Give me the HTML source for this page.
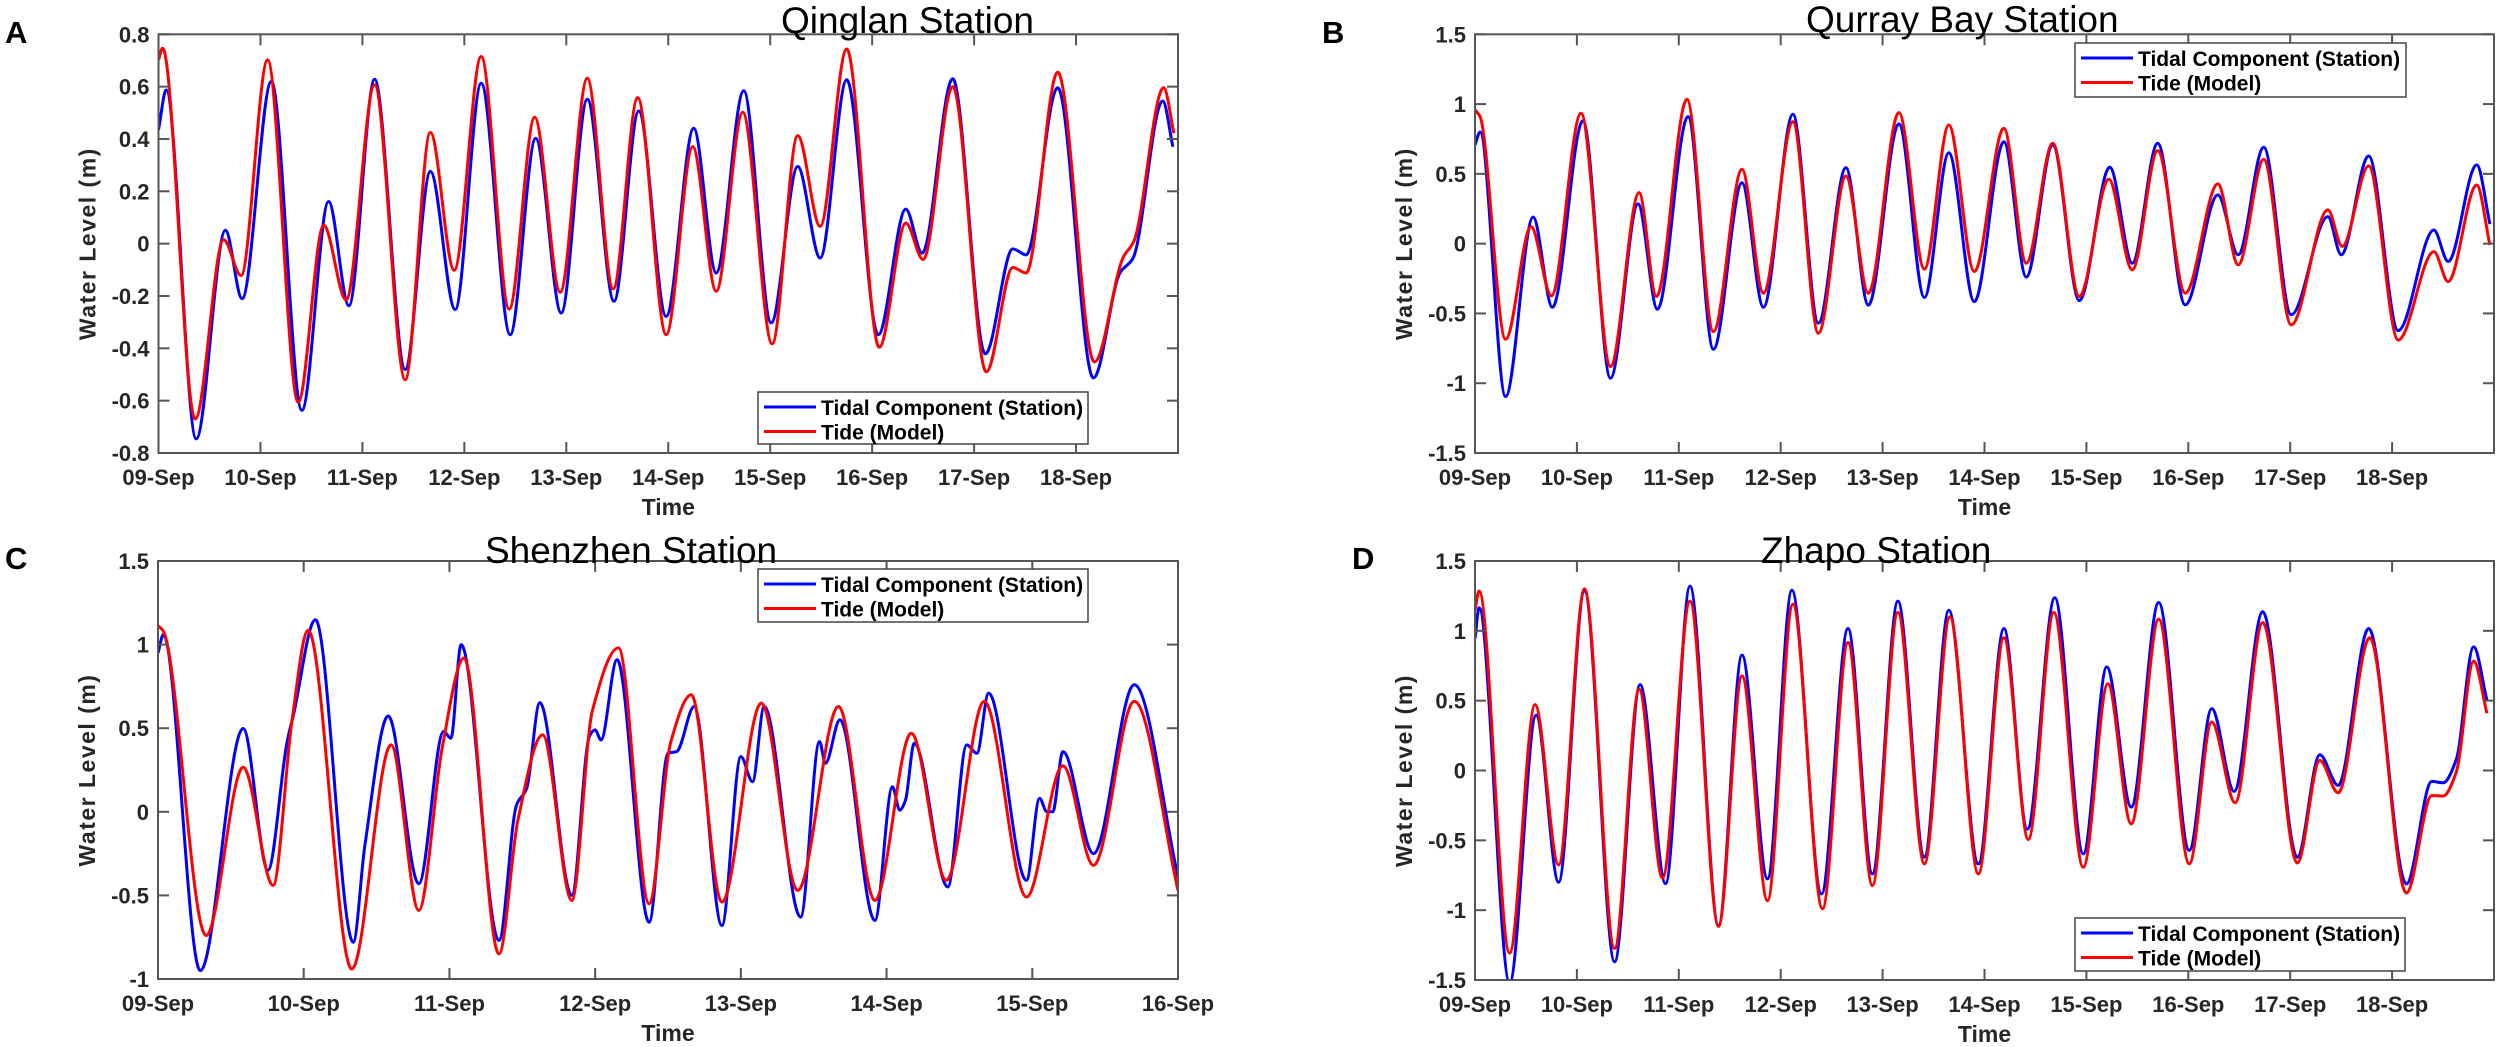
<!DOCTYPE html>
<html><head><meta charset="utf-8"><style>
html,body{margin:0;padding:0;background:#fff;}
svg{display:block;}
text{font-family:"Liberation Sans",Arial,sans-serif;}
.tick{font-size:22px;font-weight:bold;fill:#262626;}
.ttl{font-size:37px;fill:#000;}
.lab{font-size:23px;font-weight:bold;fill:#262626;}
.leg{font-size:21px;font-weight:bold;fill:#000;}
.let{font-size:31px;font-weight:bold;fill:#000;}
</style></head><body>
<svg id="fig" width="2500" height="1047" viewBox="0 0 2500 1047" xmlns="http://www.w3.org/2000/svg"></svg>
<script>
// ---- Panel A: Qinglan ----
const qinglanStationDays=[0,0.076,0.37,0.656,0.82,1.107,1.407,1.668,1.868,2.12,2.42,2.667,2.91,3.165,3.45,3.70,3.95,4.206,4.468,4.71,4.98,5.25,5.47,5.74,6.01,6.27,6.49,6.75,7.06,7.33,7.49,7.79,8.11,8.38,8.51,8.82,9.17,9.43,9.56,9.85,9.95];
const qinglanStationLevels=[0.435,0.587,-0.746,0.051,-0.21,0.62,-0.637,0.161,-0.237,0.628,-0.481,0.276,-0.252,0.613,-0.348,0.403,-0.265,0.552,-0.22,0.507,-0.278,0.441,-0.112,0.584,-0.303,0.295,-0.055,0.626,-0.348,0.132,-0.036,0.63,-0.421,-0.02,-0.043,0.596,-0.513,-0.112,-0.055,0.545,0.37];
const qinglanModelDays=[0,0.04,0.36,0.64,0.81,1.07,1.37,1.62,1.84,2.12,2.42,2.667,2.90,3.165,3.44,3.69,3.94,4.206,4.46,4.70,4.98,5.24,5.47,5.73,6.02,6.27,6.49,6.75,7.07,7.33,7.50,7.79,8.12,8.38,8.51,8.82,9.18,9.46,9.57,9.86,9.96];
const qinglanModelLevels=[0.702,0.747,-0.67,0.015,-0.122,0.702,-0.606,0.07,-0.214,0.607,-0.52,0.425,-0.102,0.715,-0.25,0.483,-0.186,0.632,-0.173,0.558,-0.348,0.371,-0.182,0.502,-0.383,0.413,0.066,0.744,-0.396,0.079,-0.061,0.6,-0.49,-0.091,-0.112,0.655,-0.452,-0.055,0.012,0.596,0.422];
// ---- Panel B: Qurray Bay ----
const qurrayStationDays=[0,0.05,0.30,0.57,0.76,1.06,1.33,1.60,1.79,2.09,2.34,2.62,2.83,3.12,3.37,3.64,3.86,4.16,4.41,4.65,4.90,5.19,5.41,5.67,5.93,6.23,6.45,6.70,6.97,7.29,7.49,7.74,8.01,8.37,8.50,8.77,9.06,9.41,9.55,9.83,9.96];
const qurrayStationLevels=[0.707,0.80,-1.096,0.19,-0.456,0.88,-0.964,0.285,-0.47,0.91,-0.757,0.437,-0.456,0.927,-0.57,0.545,-0.44,0.858,-0.386,0.652,-0.415,0.73,-0.24,0.707,-0.408,0.547,-0.14,0.72,-0.439,0.349,-0.08,0.69,-0.51,0.194,-0.08,0.628,-0.623,0.098,-0.128,0.564,0.141];
const qurrayModelDays=[0,0.05,0.30,0.55,0.75,1.04,1.33,1.61,1.78,2.08,2.34,2.62,2.83,3.12,3.37,3.64,3.86,4.16,4.41,4.65,4.90,5.19,5.41,5.67,5.93,6.22,6.45,6.70,6.97,7.29,7.49,7.74,8.01,8.37,8.51,8.77,9.06,9.41,9.55,9.83,9.96];
const qurrayModelLevels=[0.958,0.91,-0.685,0.122,-0.374,0.934,-0.88,0.366,-0.379,1.034,-0.63,0.533,-0.355,0.874,-0.642,0.485,-0.355,0.939,-0.183,0.85,-0.20,0.827,-0.14,0.72,-0.379,0.461,-0.188,0.667,-0.355,0.428,-0.152,0.605,-0.582,0.242,-0.02,0.557,-0.69,-0.057,-0.272,0.42,-0.01];
// ---- Panel C: Shenzhen ----
const shenzhenStationDays=[0,0.037,0.29,0.585,0.754,0.885,0.93,1.08,1.34,1.42,1.58,1.79,1.96,2.01,2.08,2.34,2.46,2.53,2.62,2.84,2.96,3.0,3.04,3.15,3.37,3.5,3.56,3.68,3.87,4.0,4.08,4.16,4.41,4.54,4.58,4.68,4.92,5.04,5.09,5.13,5.19,5.42,5.55,5.62,5.70,5.96,6.05,6.10,6.14,6.21,6.42,6.70,7.0];
const shenzhenStationLevels=[0.95,1.06,-0.95,0.498,-0.35,0.415,0.58,1.149,-0.78,-0.2,0.573,-0.43,0.48,0.44,1.0,-0.77,0.04,0.14,0.653,-0.5,0.45,0.49,0.43,0.91,-0.66,0.35,0.36,0.63,-0.68,0.33,0.18,0.63,-0.63,0.42,0.29,0.55,-0.65,0.15,0.01,0.07,0.41,-0.45,0.4,0.35,0.71,-0.41,0.08,0.0,0.0,0.36,-0.25,0.76,-0.39];
const shenzhenModelDays=[0,0.037,0.33,0.585,0.79,0.92,1.03,1.33,1.60,1.79,1.95,2.1,2.34,2.47,2.64,2.84,2.98,3.16,3.37,3.52,3.66,3.87,4.14,4.39,4.67,4.92,5.17,5.41,5.67,5.96,6.21,6.42,6.70,7.0];
const shenzhenModelLevels=[1.113,1.08,-0.74,0.266,-0.44,0.55,1.085,-0.94,0.40,-0.59,0.38,0.92,-0.85,-0.05,0.46,-0.53,0.6,0.98,-0.55,0.42,0.70,-0.54,0.65,-0.47,0.63,-0.53,0.47,-0.41,0.66,-0.51,0.276,-0.32,0.66,-0.47];
// ---- Panel D: Zhapo ----
const zhapoStationDays=[0,0.04,0.34,0.60,0.82,1.075,1.37,1.62,1.87,2.11,2.39,2.62,2.87,3.11,3.40,3.66,3.90,4.15,4.41,4.65,4.94,5.19,5.42,5.69,5.97,6.20,6.44,6.71,7.01,7.23,7.45,7.73,8.07,8.29,8.47,8.77,9.14,9.39,9.50,9.63,9.80,9.93];
const zhapoStationLevels=[0.945,1.165,-1.52,0.395,-0.80,1.285,-1.37,0.615,-0.81,1.32,-1.11,0.826,-0.776,1.29,-0.884,1.017,-0.74,1.213,-0.62,1.148,-0.669,1.017,-0.42,1.237,-0.597,0.742,-0.262,1.203,-0.573,0.443,-0.15,1.136,-0.621,0.113,-0.107,1.017,-0.812,-0.078,-0.088,0.08,0.885,0.503];
const zhapoModelDays=[0,0.04,0.34,0.59,0.82,1.075,1.37,1.61,1.84,2.11,2.39,2.62,2.87,3.12,3.41,3.66,3.90,4.15,4.41,4.66,4.94,5.19,5.43,5.68,5.97,6.21,6.44,6.71,7.01,7.23,7.46,7.73,8.07,8.29,8.47,8.78,9.14,9.39,9.50,9.63,9.80,9.93];
const zhapoModelLevels=[1.148,1.285,-1.307,0.472,-0.676,1.30,-1.274,0.582,-0.77,1.213,-1.116,0.677,-0.932,1.19,-0.99,0.917,-0.824,1.132,-0.669,1.10,-0.74,0.95,-0.494,1.132,-0.693,0.622,-0.382,1.084,-0.669,0.347,-0.231,1.06,-0.662,0.072,-0.16,0.95,-0.877,-0.179,-0.183,-0.011,0.783,0.41];
// ---- tick labels ----
const tenDayLabels=["09-Sep","10-Sep","11-Sep","12-Sep","13-Sep","14-Sep","15-Sep","16-Sep","17-Sep","18-Sep"];
const sevenDayLabels=["09-Sep","10-Sep","11-Sep","12-Sep","13-Sep","14-Sep","15-Sep","16-Sep"];
const qinglanYTicks=[0.8,0.6,0.4,0.2,0,-0.2,-0.4,-0.6,-0.8];
const bayYTicks=[1.5,1,0.5,0,-0.5,-1,-1.5];
const shenzhenYTicks=[1.5,1,0.5,0,-0.5,-1];
const legendLabels=["Tidal Component (Station)","Tide (Model)"];

const NS="http://www.w3.org/2000/svg";
const svg=document.getElementById('fig');
function mk(tag,attrs,parent){const e=document.createElementNS(NS,tag);for(const k in attrs)e.setAttribute(k,attrs[k]);(parent||svg).appendChild(e);return e;}

function monoPath(xs,ys){
  const n=xs.length,m=[],t=[];
  for(let i=0;i<n-1;i++)m.push((ys[i+1]-ys[i])/(xs[i+1]-xs[i]));
  t[0]=m[0];t[n-1]=m[n-2];
  for(let i=1;i<n-1;i++){
    if(m[i-1]*m[i]<=0)t[i]=0;else t[i]=2/(1/m[i-1]+1/m[i]);
  }
  let d="M"+xs[0].toFixed(1)+","+ys[0].toFixed(1);
  for(let i=0;i<n-1;i++){
    const h=xs[i+1]-xs[i];
    d+=" C"+(xs[i]+h/3).toFixed(1)+","+(ys[i]+t[i]*h/3).toFixed(1)+" "+(xs[i+1]-h/3).toFixed(1)+","+(ys[i+1]-t[i+1]*h/3).toFixed(1)+" "+xs[i+1].toFixed(1)+","+ys[i+1].toFixed(1);
  }
  return d;
}

function panel(cfg){
  const g=mk('g',{});
  
  
  const L=cfg.left,T=cfg.top,R=cfg.right,B=cfg.bottom;
  const xs=d=>L+(R-L)*d/cfg.days;
  const ys=v=>B-(B-T)*(v-cfg.ymin)/(cfg.ymax-cfg.ymin);
  // clip
  const cid='clip-'+cfg.name;
  const cp=mk('clipPath',{id:cid},g);mk('rect',{x:L,y:T,width:R-L,height:B-T},cp);
  // series
  const series=[[cfg.sd,cfg.sv,'#0000ff','station-line'],[cfg.md,cfg.mv,'#ff0000','model-line']];
  series.forEach(s=>{
    const p=mk('path',{d:monoPath(s[0].map(xs),s[1].map(ys)),fill:'none',stroke:s[2],'stroke-width':3,'stroke-linejoin':'round','clip-path':'url(#'+cid+')'},g);
    
    
  });
  // box
  const box=mk('rect',{x:L,y:T,width:R-L,height:B-T,fill:'none',stroke:'#555','stroke-width':2},g);
  
  
  // x ticks
  cfg.xlabels.forEach((lab,i)=>{
    const x=xs(i);
    mk('line',{x1:x,y1:B,x2:x,y2:B-11,stroke:'#555','stroke-width':2},g);
    mk('line',{x1:x,y1:T,x2:x,y2:T+11,stroke:'#555','stroke-width':2},g);
    const t=mk('text',{x:x,y:B+32,'text-anchor':'middle',class:'tick'},g);
    t.textContent=lab;
    
    
  });
  // y ticks
  cfg.yticks.forEach(v=>{
    const y=ys(v);
    mk('line',{x1:L,y1:y,x2:L+11,y2:y,stroke:'#555','stroke-width':2},g);
    mk('line',{x1:R,y1:y,x2:R-11,y2:y,stroke:'#555','stroke-width':2},g);
    const t=mk('text',{x:L-9,y:y+8,'text-anchor':'end',class:'tick'},g);
    t.textContent=String(v);
    
    
  });
  // axis titles
  const xt=mk('text',{x:(L+R)/2,y:B+62,'text-anchor':'middle',class:'lab'},g);
  xt.textContent='Time';
  
  
  const cy=(T+B)/2,cx=L-63;
  const yt=mk('text',{x:cx,y:cy,'text-anchor':'middle',class:'lab',transform:'rotate(-90 '+cx+' '+cy+')','letter-spacing':'1.5'},g);
  yt.textContent='Water Level (m)';
  
  
  // title
  const tt=mk('text',{x:cfg.titleX,y:cfg.titleY,class:'ttl'},g);
  tt.textContent=cfg.title;
  
  
  // panel letter
  const pl=mk('text',{x:cfg.letterX,y:cfg.letterY,class:'let'},g);
  pl.textContent=cfg.letter;
  
  
  // legend
  const lg=mk('g',{},g);
  
  
  const [lx,ly,lw,lh]=cfg.legend;
  mk('rect',{x:lx,y:ly,width:lw,height:lh,fill:'#fff',stroke:'#444','stroke-width':1.5},lg);
  legendLabels.forEach((lab,i)=>{
    const ry=ly+15+i*24.5;
    const ll=mk('line',{x1:lx+6,y1:ry,x2:lx+58,y2:ry,stroke:i?'#ff0000':'#0000ff','stroke-width':3},lg);
    
    
    const lt=mk('text',{x:lx+63,y:ry+8,class:'leg'},lg);
    lt.textContent=lab;
    
    
  });
}

panel({name:'qinglan',left:158.5,top:34.3,right:1178,bottom:453,days:10,ymin:-0.8,ymax:0.8,
  sd:qinglanStationDays,sv:qinglanStationLevels,md:qinglanModelDays,mv:qinglanModelLevels,
  xlabels:tenDayLabels,yticks:qinglanYTicks,title:'Qinglan Station',titleX:781,titleY:33,
  letter:'A',letterX:5,letterY:43,legend:[758,392,330,52]});
panel({name:'qurray-bay',left:1475,top:34.3,right:2494,bottom:453,days:10,ymin:-1.5,ymax:1.5,
  sd:qurrayStationDays,sv:qurrayStationLevels,md:qurrayModelDays,mv:qurrayModelLevels,
  xlabels:tenDayLabels,yticks:bayYTicks,title:'Qurray Bay Station',titleX:1806,titleY:32,
  letter:'B',letterX:1322,letterY:43,legend:[2075,43,331,54]});
panel({name:'shenzhen',left:158,top:561,right:1178,bottom:979,days:7,ymin:-1,ymax:1.5,
  sd:shenzhenStationDays,sv:shenzhenStationLevels,md:shenzhenModelDays,mv:shenzhenModelLevels,
  xlabels:sevenDayLabels,yticks:shenzhenYTicks,title:'Shenzhen Station',titleX:485,titleY:563,
  letter:'C',letterX:5,letterY:569,legend:[758,569,330,53]});
panel({name:'zhapo',left:1475,top:561,right:2494,bottom:980,days:10,ymin:-1.5,ymax:1.5,
  sd:zhapoStationDays,sv:zhapoStationLevels,md:zhapoModelDays,mv:zhapoModelLevels,
  xlabels:tenDayLabels,yticks:bayYTicks,title:'Zhapo Station',titleX:1761,titleY:563,
  letter:'D',letterX:1352,letterY:569,legend:[2075,918,330,53]});
</script>
</body></html>
